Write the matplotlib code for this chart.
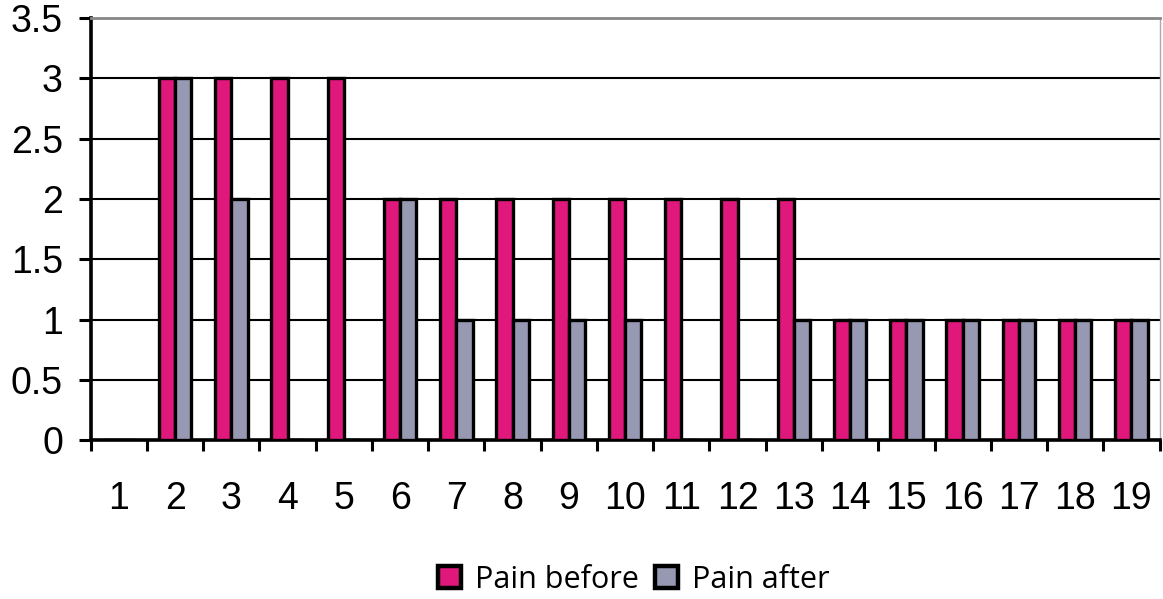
import numpy as np
import matplotlib.pyplot as plt
from matplotlib.ticker import FixedLocator

# Values
patients = [str(i) for i in range(1, 20)]
pain_before = [0, 3, 3, 3, 3, 2, 2, 2, 2, 2, 2, 2, 2, 1, 1, 1, 1, 1, 1]
pain_after = [0, 3, 2, 0, 0, 2, 1, 1, 1, 1, 0, 0, 1, 1, 1, 1, 1, 1, 1]
y_ticks = [0, 0.5, 1, 1.5, 2, 2.5, 3, 3.5]
y_labels = ['0', '0.5', '1', '1.5', '2', '2.5', '3', '3.5']

pink = '#E0187B'
grey = '#9798B2'

fig = plt.figure(figsize=(11.63, 5.99), dpi=100)
ax = fig.add_axes([0.078, 0.265, 0.919, 0.705])

x = np.arange(1, len(patients) + 1)
w = 0.29
ax.bar(x - w / 2, pain_before, w, color=pink, edgecolor='black', linewidth=2.4,
       label='Pain before', zorder=3)
ax.bar(x + w / 2, pain_after, w, color=grey, edgecolor='black', linewidth=2.4,
       label='Pain after', zorder=3)

ax.set_xlim(0.5, len(patients) + 0.5)
ax.set_ylim(0, 3.5)
ax.set_yticks(y_ticks)
ax.set_yticklabels(y_labels, fontsize=27, family='Liberation Sans')
ax.yaxis.grid(True, color='black', linewidth=1.5, zorder=0)
ax.set_axisbelow(True)

ax.set_xticks(x)
ax.set_xticklabels(patients, fontsize=27, family='Liberation Sans')
ax.xaxis.set_minor_locator(FixedLocator(np.arange(0.5, len(patients) + 1, 1.0)))
ax.tick_params(axis='x', which='major', length=0, pad=29)
ax.tick_params(axis='x', which='minor', length=8, width=2.2, direction='out')
ax.tick_params(axis='y', length=9, width=2.2, direction='out', pad=11)

ax.spines['left'].set_linewidth(2.6)
ax.spines['bottom'].set_linewidth(2.6)
ax.spines['top'].set_color('#888888')
ax.spines['top'].set_linewidth(2)
ax.spines['right'].set_color('#aaaaaa')
ax.spines['right'].set_linewidth(1)

leg = fig.legend(loc='center', bbox_to_anchor=(0.545, 0.032), ncol=2, frameon=False,
                 prop={'family': 'Open Sans', 'size': 22}, handlelength=0.75,
                 handleheight=0.75, handletextpad=0.45, columnspacing=0.55)
for h in leg.legend_handles:
    h.set_linewidth(3.2)

fig.savefig('out.png', dpi=100)
